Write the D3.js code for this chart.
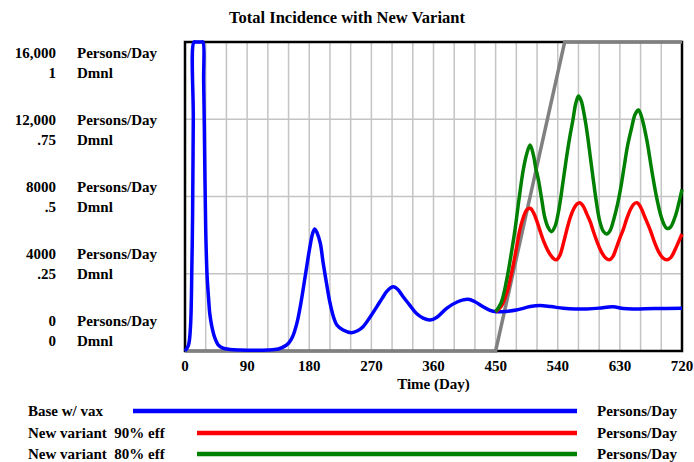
<!DOCTYPE html>
<html>
<head>
<meta charset="utf-8">
<script src="https://cdn.jsdelivr.net/npm/d3@7"></script>
<style>
  body { margin: 0; background: #fff; }
</style>
</head>
<body>
<svg id="chart"></svg>
<script>
// chart data (days, persons/day)
const baseDays = [0, 5, 8, 10, 11, 12, 13, 16, 20, 24, 26, 27, 28, 30, 32, 34, 36, 39, 43, 48, 55, 65, 80, 100, 120, 135, 142, 150, 156, 162, 167, 171, 176, 181, 185, 188, 191, 196, 200, 205, 210, 215, 220, 229, 241, 250, 258, 268, 278, 286, 292, 298, 302, 308, 316, 325, 335, 345, 355, 365, 379, 395, 410, 420, 432, 442, 451, 465, 480, 500, 514, 530, 548, 565, 582, 600, 620, 635, 650, 680, 720];
const baseVals = [0, 300, 1300, 4500, 7000, 12000, 16800, 20000, 22000, 19500, 16800, 14000, 11600, 6300, 3900, 2800, 1900, 1250, 700, 320, 150, 80, 50, 40, 50, 100, 200, 400, 750, 1430, 2300, 3160, 4300, 5400, 6100, 6320, 6150, 5580, 4600, 3510, 2500, 1780, 1350, 1090, 950, 1050, 1260, 1750, 2300, 2750, 3070, 3280, 3330, 3200, 2810, 2400, 1950, 1700, 1600, 1750, 2210, 2550, 2680, 2550, 2290, 2100, 2030, 2050, 2120, 2300, 2360, 2300, 2210, 2170, 2180, 2220, 2290, 2200, 2180, 2200, 2210];

const v90Days = [450, 458, 466, 471, 476, 480, 485, 490, 495, 500, 505, 510, 514, 520, 525, 529, 534, 538, 543, 548, 553, 558, 563, 568, 572, 577, 582, 587, 591, 597, 603, 609, 615, 620, 625, 630, 635, 640, 645, 650, 655, 660, 666, 674, 680, 686, 692, 698, 704, 710, 715, 720];
const v90Vals = [2030, 2300, 2980, 3700, 4540, 5300, 6260, 6900, 7300, 7390, 7150, 6700, 6260, 5650, 5250, 5000, 4780, 4720, 4950, 5550, 6260, 6900, 7350, 7620, 7680, 7500, 7100, 6700, 6260, 5650, 5150, 4830, 4720, 4900, 5350, 5850, 6300, 6850, 7300, 7600, 7680, 7450, 6950, 6260, 5650, 5150, 4830, 4720, 4850, 5250, 5650, 6060];

const v80Days = [450, 458, 466, 472, 478, 484, 490, 495, 500, 505, 508, 512, 517, 521, 526, 531, 536, 542, 548, 553, 558, 562, 566, 570, 574, 578, 582, 587, 591, 596, 601, 606, 611, 616, 621, 626, 631, 636, 641, 647, 652, 657, 662, 669, 676, 683, 689, 694, 698, 703, 710, 715, 720];
const v80Vals = [2030, 2500, 3680, 4900, 6260, 7900, 9370, 10200, 10670, 10100, 9500, 8860, 7800, 6950, 6400, 6180, 6450, 7400, 8860, 10100, 11200, 11960, 12800, 13200, 12950, 12300, 11440, 10100, 9000, 7700, 6700, 6200, 6060, 6250, 6800, 7500, 8400, 9500, 10600, 11550, 12250, 12480, 12050, 10930, 9400, 7990, 7050, 6550, 6350, 6400, 6950, 7600, 8370];

// second axis variable (Dmnl)
const effDays = [0, 450, 550, 720];
const effVals = [0, 0, 1, 1];

const xTicks = [0, 90, 180, 270, 360, 450, 540, 630, 720];
const yTicks = [0, 4000, 8000, 12000, 16000];
const yTickLabels = ['0', '4000', '8000', '12,000', '16,000'];
const dTickLabels = ['0', '.25', '.5', '.75', '1'];

const seriesNames = ['Base w/ vax', 'New variant  90% eff', 'New variant  80% eff'];
const seriesColors = ['#0000ff', '#ff0000', '#008000'];

// layout
const width = 694;
const height = 462;
const plot = { left: 185, right: 682, top: 42, bottom: 351 };
const font = 'Liberation Serif, Times New Roman, Times, Tinos, Nimbus Roman, FreeSerif, DejaVu Serif, Noto Serif, serif';

const svg = d3.select('#chart')
  .attr('width', width)
  .attr('height', height)
  .style('font-family', font)
  .style('font-weight', 'bold');

const x = d3.scaleLinear().domain([0, 720]).range([plot.left, plot.right]);
const y = d3.scaleLinear().domain([0, 16000]).range([plot.bottom, plot.top]).clamp(true);
const yD = d3.scaleLinear().domain([0, 1]).range([plot.bottom, plot.top]);
// Vensim spreads the axis labels over a narrower band
const yLab = d3.scaleLinear().domain([0, 16000]).range([321, 53]);

// title
svg.append('text')
  .attr('x', 347)
  .attr('y', 23)
  .attr('text-anchor', 'middle')
  .attr('font-size', 16.5)
  .text('Total Incidence with New Variant');

// grid
svg.append('g')
  .selectAll('line')
  .data(d3.range(30, 720, 30))
  .join('line')
  .attr('x1', d => x(d)).attr('x2', d => x(d))
  .attr('y1', plot.top).attr('y2', plot.bottom)
  .attr('stroke', '#c4c4c4')
  .attr('stroke-width', 1.5);

svg.append('g')
  .selectAll('line')
  .data(yTicks.slice(1, -1))
  .join('line')
  .attr('x1', plot.left).attr('x2', plot.right)
  .attr('y1', d => y(d)).attr('y2', d => y(d))
  .attr('stroke', '#c4c4c4')
  .attr('stroke-width', 1.5);

// frame
svg.append('rect')
  .attr('x', plot.left)
  .attr('y', plot.top)
  .attr('width', plot.right - plot.left)
  .attr('height', plot.bottom - plot.top)
  .attr('fill', 'none')
  .attr('stroke', '#000')
  .attr('stroke-width', 2.5);

// y labels
const yl = svg.append('g').attr('font-size', 15);
yTicks.forEach((t, i) => {
  const ty = yLab(t);
  yl.append('text').attr('x', 56).attr('y', ty).attr('dy', '0.35em')
    .attr('text-anchor', 'end').text(yTickLabels[i]);
  yl.append('text').attr('x', 77).attr('y', ty).attr('dy', '0.35em').text('Persons/Day');
  yl.append('text').attr('x', 56).attr('y', ty + 20).attr('dy', '0.35em')
    .attr('text-anchor', 'end').text(dTickLabels[i]);
  yl.append('text').attr('x', 77).attr('y', ty + 20).attr('dy', '0.35em').text('Dmnl');
});

// x labels
const xl = svg.append('g').attr('font-size', 15);
xl.selectAll('text')
  .data(xTicks)
  .join('text')
  .attr('x', d => x(d))
  .attr('y', 371)
  .attr('text-anchor', 'middle')
  .text(d => d);

xl.append('text')
  .attr('x', (plot.left + plot.right) / 2)
  .attr('y', 389)
  .attr('text-anchor', 'middle')
  .text('Time (Day)');

// lines
const line = d3.line()
  .x(d => x(d[0]))
  .y(d => y(d[1]))
  .curve(d3.curveCatmullRom.alpha(0.5));

const lineD = d3.line()
  .x(d => x(d[0]))
  .y(d => yD(d[1]));

svg.append('path')
  .datum(d3.zip(effDays, effVals))
  .attr('d', lineD)
  .attr('fill', 'none')
  .attr('stroke', '#808080')
  .attr('stroke-width', 3.5);

const series = [
  d3.zip(baseDays, baseVals),
  d3.zip(v90Days, v90Vals),
  d3.zip(v80Days, v80Vals)
];

series.forEach((s, i) => {
  svg.append('path')
    .datum(s)
    .attr('d', line)
    .attr('fill', 'none')
    .attr('stroke', seriesColors[i])
    .attr('stroke-width', 3.5)
    .attr('stroke-linejoin', 'round');
});

// legend
const legendY = [411, 433, 454];
const legendStart = [133, 197, 197];
const lg = svg.append('g').attr('font-size', 15);
seriesNames.forEach((name, i) => {
  lg.append('text').attr('x', 28).attr('y', legendY[i]).attr('dy', '0.35em')
    .style('white-space', 'pre').text(name);
  lg.append('line')
    .attr('x1', legendStart[i]).attr('x2', 577)
    .attr('y1', legendY[i]).attr('y2', legendY[i])
    .attr('stroke', seriesColors[i])
    .attr('stroke-width', 4.5);
  lg.append('text').attr('x', 597).attr('y', legendY[i]).attr('dy', '0.35em').text('Persons/Day');
});
</script>
</body>
</html>
